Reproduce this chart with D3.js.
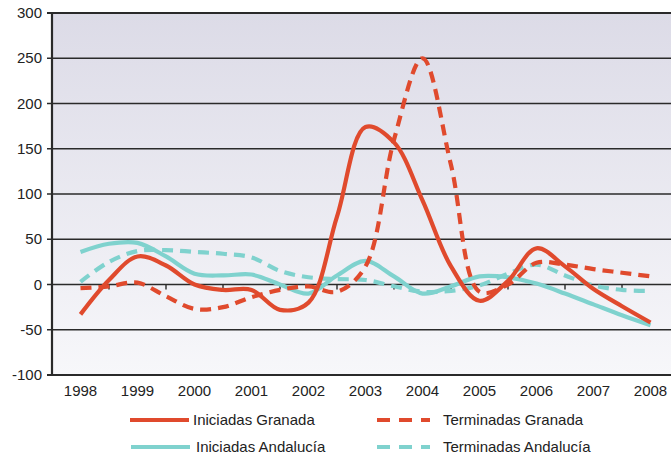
<!DOCTYPE html>
<html>
<head>
<meta charset="utf-8">
<script src="https://cdn.jsdelivr.net/npm/d3@7"></script>
<style>
  html, body { margin: 0; padding: 0; background: #fff; }
  svg { display: block; font-family: "Liberation Sans", Arial, sans-serif; }
</style>
</head>
<body>
<svg class="chart" width="671" height="456"></svg>
<script>
  // half-year points
  const periodos = [1998, 1998.5, 1999, 1999.5, 2000, 2000.5, 2001, 2001.5, 2002, 2002.5,
    2003, 2003.5, 2004, 2004.5, 2005, 2005.5, 2006, 2006.5, 2007, 2007.5, 2008];
  const anios = ["1998", "1999", "2000", "2001", "2002", "2003", "2004", "2005", "2006", "2007", "2008"];
  const yTicks = [300, 250, 200, 150, 100, 50, 0, -50, -100];

  const iniciadasGranada = [-33, 5, 31, 21, 0, -6, -6, -28, -20, 75,
    174, 157, 93, 20, -18, 4, 40, 20, -5, -24, -42];
  const terminadasGranada = [-4, -2, 2, -13, -27, -25, -14, -6, -2, -8,
    20, 160, 250, 132, -8, 0, 24, 22, 17, 13, 9];
  const iniciadasAndalucia = [36, 45, 46, 31, 12, 10, 11, 0, -10, 10,
    26, 9, -10, -2, 9, 8, 1, -10, -22, -34, -45];
  const terminadasAndalucia = [3, 25, 37, 38, 36, 34, 30, 15, 8, 6,
    5, -2, -8, -7, -1, 12, 22, 10, -1, -6, -7];

  const rojo = "#e04a2d";
  const cian = "#7fd2ce";

  const series = [
    { name: "Iniciadas Andalucía", values: iniciadasAndalucia, color: cian, dash: null },
    { name: "Terminadas Andalucía", values: terminadasAndalucia, color: cian, dash: "11,7" },
    { name: "Terminadas Granada", values: terminadasGranada, color: rojo, dash: "11,7" },
    { name: "Iniciadas Granada", values: iniciadasGranada, color: rojo, dash: null }
  ];

  const svg = d3.select(".chart");
  const plotLeft = 52, plotTop = 13, plotBottom = 375, step = 57;

  const x = d3.scaleLinear().domain([1997.5, 2008.5]).range([plotLeft, plotLeft + 11 * step]);
  const y = d3.scaleLinear().domain([-100, 300]).range([plotBottom, plotTop]);

  const defs = svg.append("defs");
  const grad = defs.append("linearGradient")
    .attr("id", "bg").attr("x1", 0).attr("y1", 0).attr("x2", 0).attr("y2", 1);
  grad.append("stop").attr("offset", "0%").attr("stop-color", "#dcdbe7");
  grad.append("stop").attr("offset", "100%").attr("stop-color", "#f7f7fa");

  svg.append("rect")
    .attr("x", plotLeft).attr("y", plotTop)
    .attr("width", 671 - plotLeft).attr("height", plotBottom - plotTop)
    .attr("fill", "url(#bg)");

  // horizontal grid
  svg.append("g")
    .selectAll("line")
    .data(yTicks)
    .enter()
    .append("line")
    .attr("x1", plotLeft - 5).attr("x2", 671)
    .attr("y1", (d) => y(d)).attr("y2", (d) => y(d))
    .attr("stroke", "#2a2a2a")
    .attr("stroke-width", (d) => (d === -100 || d === 300 ? 2 : 1.4));

  // category ticks on the zero line
  svg.append("g")
    .selectAll("line")
    .data(anios.slice(1))
    .enter()
    .append("line")
    .attr("x1", (d) => x(+d - 0.5)).attr("x2", (d) => x(+d - 0.5))
    .attr("y1", y(0)).attr("y2", y(0) + 5)
    .attr("stroke", "#2a2a2a")
    .attr("stroke-width", 1.4);

  svg.append("line")
    .attr("x1", plotLeft).attr("x2", plotLeft)
    .attr("y1", plotTop - 1).attr("y2", plotBottom + 1)
    .attr("stroke", "#2a2a2a")
    .attr("stroke-width", 2.2);

  svg.append("g")
    .selectAll("text")
    .data(yTicks)
    .enter()
    .append("text")
    .attr("x", 42).attr("y", (d) => y(d) + 5)
    .attr("text-anchor", "end")
    .attr("font-size", 15)
    .attr("fill", "#222")
    .text((d) => d);

  svg.append("g")
    .selectAll("text")
    .data(anios)
    .enter()
    .append("text")
    .attr("x", (d) => x(+d))
    .attr("y", 396)
    .attr("text-anchor", "middle")
    .attr("font-size", 15)
    .attr("fill", "#222")
    .text((d) => d);

  const line = d3.line()
    .x((d, i) => x(periodos[i]))
    .y((d) => y(d))
    .curve(d3.curveCatmullRom.alpha(0.5));

  svg.append("g")
    .selectAll("path")
    .data(series)
    .enter()
    .append("path")
    .attr("d", (d) => line(d.values))
    .attr("fill", "none")
    .attr("stroke", (d) => d.color)
    .attr("stroke-width", 4.2)
    .attr("stroke-dasharray", (d) => d.dash);

  // legend
  const legend = [
    { name: "Iniciadas Granada", color: rojo, dash: null, lx: 130, tx: 193, ly: 420 },
    { name: "Terminadas Granada", color: rojo, dash: "13,9", lx: 377, tx: 443, ly: 420 },
    { name: "Iniciadas Andalucía", color: cian, dash: null, lx: 131, tx: 196, ly: 447 },
    { name: "Terminadas Andalucía", color: cian, dash: "13,9", lx: 377, tx: 443, ly: 447 }
  ];

  const lg = svg.append("g")
    .selectAll("g")
    .data(legend)
    .enter()
    .append("g");

  lg.append("line")
    .attr("x1", (d) => d.lx).attr("x2", (d) => d.lx + (d.dash ? 53 : 59))
    .attr("y1", (d) => d.ly).attr("y2", (d) => d.ly)
    .attr("stroke", (d) => d.color)
    .attr("stroke-width", 4.2)
    .attr("stroke-dasharray", (d) => d.dash);

  lg.append("text")
    .attr("x", (d) => d.tx)
    .attr("y", (d) => d.ly + 5)
    .attr("font-size", 15)
    .attr("fill", "#222")
    .text((d) => d.name);
</script>
</body>
</html>
